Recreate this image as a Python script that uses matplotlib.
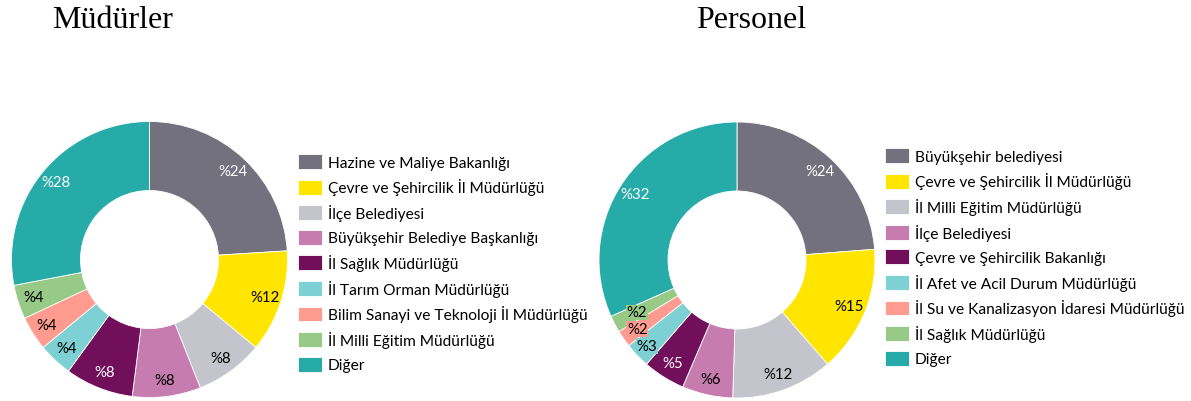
import numpy as np
import matplotlib.pyplot as plt

# Müdürler (managers) distribution
mud_labels = ['Hazine ve Maliye Bakanlığı', 'Çevre ve Şehircilik İl Müdürlüğü',
              'İlçe Belediyesi', 'Büyükşehir Belediye Başkanlığı', 'İl Sağlık Müdürlüğü',
              'İl Tarım Orman Müdürlüğü', 'Bilim Sanayi ve Teknoloji İl Müdürlüğü',
              'İl Milli Eğitim Müdürlüğü', 'Diğer']
mud_values = [24, 12, 8, 8, 8, 4, 4, 4, 28]

# Personel (staff) distribution
per_labels = ['Büyükşehir belediyesi', 'Çevre ve Şehircilik İl Müdürlüğü',
              'İl Milli Eğitim Müdürlüğü', 'İlçe Belediyesi', 'Çevre ve Şehircilik Bakanlığı',
              'İl Afet ve Acil Durum Müdürlüğü', 'İl Su ve Kanalizasyon İdaresi Müdürlüğü',
              'İl Sağlık Müdürlüğü', 'Diğer']
per_values = [24, 15, 12, 6, 5, 3, 2, 2, 32]

COLORS = ['#72717D', '#FFE500', '#C4C4CC', '#C77CB0', '#720F5A',
          '#7DD0D3', '#FF9B8F', '#97C987', '#27ABA9']
TEXT_COLORS = ['white', 'black', 'black', 'black', 'white',
               'black', 'black', 'black', 'white']

FONT = 'Lato'
W, H = 1191, 402


def donut(cx, cy, r, values, labels, legend_xy, label_dist, boxed=()):
    ax = fig.add_axes([(cx - r) / W, (H - cy - r) / H, 2 * r / W, 2 * r / H])
    wedges, _ = ax.pie(values, colors=COLORS, startangle=90, counterclock=False,
                       radius=1, wedgeprops=dict(width=0.5, edgecolor='white', linewidth=0.6))
    ax.set_xlim(-1, 1)
    ax.set_ylim(-1, 1)
    for i, (w, v) in enumerate(zip(wedges, values)):
        ang = np.deg2rad((w.theta1 + w.theta2) / 2)
        d = label_dist[i]
        kw = {}
        if i in boxed:
            kw['bbox'] = dict(boxstyle='square,pad=0.05', fc=COLORS[i], ec='none')
        ax.text(d * np.cos(ang), d * np.sin(ang), f'%{v}', ha='center', va='center',
                color=TEXT_COLORS[i], fontsize=10.8, family=FONT, **kw)
    fig.legend(wedges, labels, loc='upper left',
               bbox_to_anchor=(legend_xy[0] / W, 1 - legend_xy[1] / H),
               frameon=False, prop={'family': FONT, 'size': 11.2},
               handlelength=1.55, handleheight=1.1, handletextpad=0.35,
               labelspacing=0.555, borderpad=0, borderaxespad=0)


fig = plt.figure(figsize=(W / 100, H / 100), dpi=100)

donut(149.5, 260.5, 138, mud_values, mud_labels, (298, 155), [0.88] * 9)
donut(737, 261, 138, per_values, per_labels, (885, 149),
      [0.88, 0.88, 0.88, 0.88, 0.88, 0.9, 0.88, 0.82, 0.88], boxed=(5, 6, 7))

fig.text(113 / W, 1 - 20 / H, 'Müdürler', ha='center', va='center',
         family='Liberation Serif', fontsize=23)
fig.text(751 / W, 1 - 20 / H, 'Personel', ha='center', va='center',
         family='Liberation Serif', fontsize=23)

fig.savefig('out.png', dpi=100)
